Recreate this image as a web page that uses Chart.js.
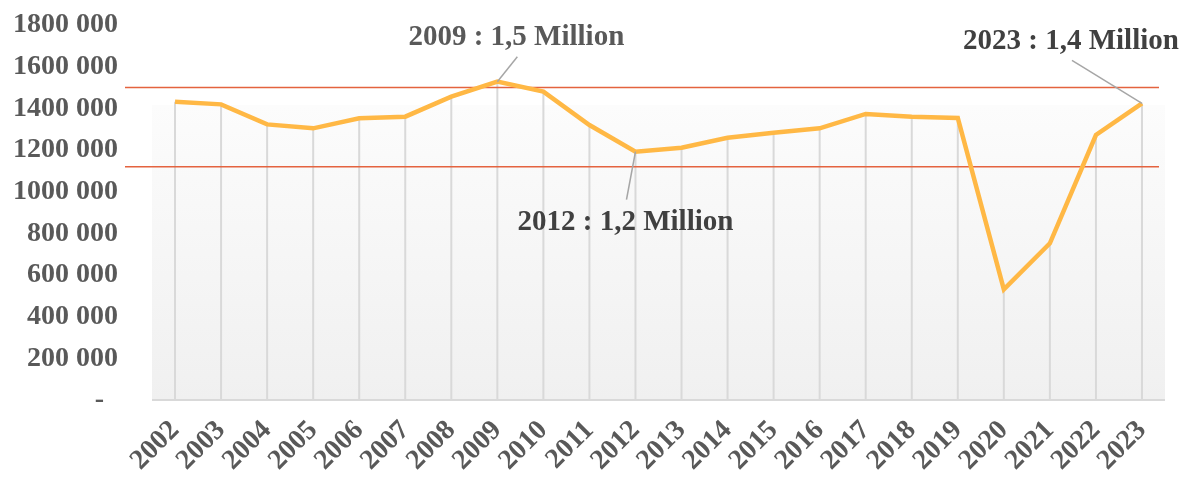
<!DOCTYPE html>
<html>
<head>
<meta charset="utf-8">
<script src="https://cdn.jsdelivr.net/npm/chart.js@4"></script>
<style>
  html, body { margin: 0; padding: 0; background: #ffffff; }
  #wrap { width: 1184px; height: 477px; }
</style>
</head>
<body>
<div id="wrap"><canvas id="chart" width="1184" height="477"></canvas></div>
<script>
// Years on the x axis
const years = ['2002', '2003', '2004', '2005', '2006', '2007', '2008', '2009', '2010', '2011', '2012',
               '2013', '2014', '2015', '2016', '2017', '2018', '2019', '2020', '2021', '2022', '2023'];

// Values
const visitors = [1432000, 1419000, 1323000, 1304000, 1352000, 1360000, 1456000, 1528000, 1480000, 1320000, 1192000,
                  1211000, 1259000, 1283000, 1304000, 1373000, 1360000, 1354000, 531000, 752000, 1272000, 1424000];

// Red reference lines
const refLines = [1500000, 1120000];

// Callouts: which year, and what it says
const calloutYears = ['2009', '2012', '2023'];
const calloutTexts = ['2009 : 1,5 Million', '2012 : 1,2 Million', '2023 : 1,4 Million'];

// where each callout sits relative to its point (text centre, leader start)
const calloutStyle = [
    { dx: 19, dy: -45, lx: 20, ly: -25, color: '#595959' },
    { dx: -10, dy: 70, lx: -9, ly: 48, color: '#404040' },
    { dx: -71, dy: -63, lx: -70, ly: -43, color: '#404040' }
];

const FONT = '"Liberation Serif", "Times New Roman", serif';

function formatTick(v) {
    if (v === 0) return '-  ';
    return Math.floor(v / 1000) + ' ' + String(v % 1000).padStart(3, '0');
}

const decorations = {
    id: 'decorations',
    beforeDatasetsDraw(chart) {
        const { ctx, chartArea, scales } = chart;
        const x = scales.x, y = scales.y;
        const bottom = y.getPixelForValue(0);

        // plot background (light grey gradient)
        const top = chartArea.top + 80;
        const g = ctx.createLinearGradient(0, top, 0, bottom);
        g.addColorStop(0, '#fcfcfc');
        g.addColorStop(1, '#f0f0f0');
        ctx.save();
        ctx.fillStyle = g;
        ctx.fillRect(chartArea.left, top, chartArea.right - chartArea.left, bottom - top);

        // drop lines from each point to the axis
        ctx.strokeStyle = '#d9d9d9';
        ctx.lineWidth = 2;
        visitors.forEach((v, i) => {
            const px = x.getPixelForValue(i);
            ctx.beginPath();
            ctx.moveTo(px, y.getPixelForValue(v));
            ctx.lineTo(px, bottom);
            ctx.stroke();
        });

        // bottom axis line
        ctx.beginPath();
        ctx.moveTo(chartArea.left, bottom);
        ctx.lineTo(chartArea.right, bottom);
        ctx.stroke();

        // red reference lines
        ctx.strokeStyle = '#e4633f';
        ctx.lineWidth = 1.5;
        refLines.forEach(v => {
            const py = y.getPixelForValue(v);
            ctx.beginPath();
            ctx.moveTo(chartArea.left - 27, py);
            ctx.lineTo(chartArea.right - 6, py);
            ctx.stroke();
        });
        ctx.restore();
    },
    afterDatasetsDraw(chart) {
        const { ctx, scales } = chart;
        ctx.save();
        ctx.font = 'bold 29px ' + FONT;
        ctx.textAlign = 'center';
        ctx.textBaseline = 'middle';
        calloutYears.forEach((yr, k) => {
            const i = years.indexOf(yr);
            const px = scales.x.getPixelForValue(i);
            const py = scales.y.getPixelForValue(visitors[i]);
            const s = calloutStyle[k];
            ctx.strokeStyle = '#a6a6a6';
            ctx.lineWidth = 1.5;
            ctx.beginPath();
            ctx.moveTo(px + s.lx, py + s.ly);
            ctx.lineTo(px, py);
            ctx.stroke();
            ctx.fillStyle = s.color;
            ctx.fillText(calloutTexts[k], px + s.dx, py + s.dy + 1);
        });
        ctx.restore();
    }
};

new Chart(document.getElementById('chart'), {
    type: 'line',
    data: {
        labels: years,
        datasets: [{
            data: visitors,
            borderColor: '#ffb845',
            borderWidth: 4.5,
            pointRadius: 0,
            tension: 0,
            fill: false
        }]
    },
    options: {
        responsive: false,
        animation: false,
        layout: { padding: { top: 25, right: 19, left: 0, bottom: 0 } },
        plugins: {
            legend: { display: false },
            tooltip: { enabled: false }
        },
        scales: {
            x: {
                offset: true,
                grid: { display: false, drawTicks: false },
                border: { display: false },
                ticks: {
                    autoSkip: false,
                    minRotation: 45,
                    maxRotation: 45,
                    padding: 14,
                    color: '#595959',
                    font: { family: FONT, size: 28, weight: 'bold' }
                },
                afterFit(scale) { scale.height = 77; }
            },
            y: {
                min: 0,
                max: 1800000,
                grid: { display: false, drawTicks: false },
                border: { display: false },
                ticks: {
                    stepSize: 200000,
                    padding: 34,
                    color: '#595959',
                    font: { family: FONT, size: 28, weight: 'bold' },
                    callback: formatTick
                },
                afterFit(scale) {
                    scale.width = 152;
                    scale.paddingTop = 0;
                    scale.paddingBottom = 0;
                }
            }
        }
    },
    plugins: [decorations]
});
</script>
</body>
</html>
